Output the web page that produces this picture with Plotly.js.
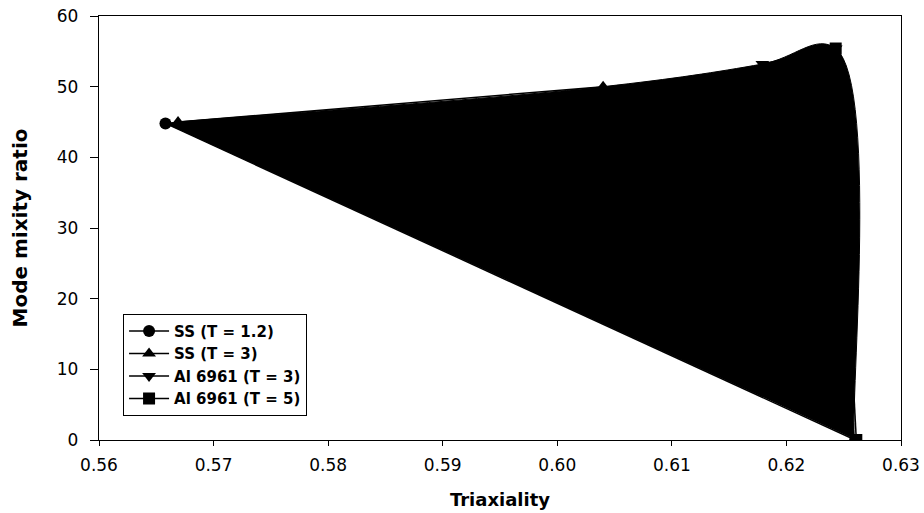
<!DOCTYPE html>
<html>
<head>
<meta charset="utf-8">
<script src="https://cdn.plot.ly/plotly-3.0.1.min.js"></script>
<style>html,body{margin:0;padding:0;background:#fff;}#chart{width:924px;height:513px;}</style>
</head>
<body>
<div id="chart"></div>
<script>
// Series data (Triaxiality vs Mode mixity ratio)
var seriesNames = ["SS (T = 1.2)", "SS (T = 3)", "Al 6961 (T = 3)", "Al 6961 (T = 5)"];
var seriesSymbols = ["circle", "triangle-up", "triangle-down", "square"];
var ssT12_x = [0.5658, 0.6260];
var ssT12_y = [44.8, 0.0];
var ssT3_x = [0.5669, 0.6040];
var ssT3_y = [45.0, 50.0];
var alT3_x = [0.6179, 0.6243];
var alT3_y = [53.2, 55.4];
var alT5_x = [0.6243, 0.6261];
var alT5_y = [55.4, 0.0];
var xTicks = [0.56, 0.57, 0.58, 0.59, 0.60, 0.61, 0.62, 0.63];
var yTicks = [0, 10, 20, 30, 40, 50, 60];

var seriesX = [ssT12_x, ssT3_x, alT3_x, alT5_x];
var seriesY = [ssT12_y, ssT3_y, alT3_y, alT5_y];

// Filled outline through all points, ordered by triaxiality
var pts = [];
var seen = {};
for (var s = 0; s < seriesX.length; s++) {
  for (var i = 0; i < seriesX[s].length; i++) {
    var key = seriesX[s][i].toFixed(4) + "_" + seriesY[s][i];
    if (!seen[key]) { seen[key] = true; pts.push([seriesX[s][i], seriesY[s][i]]); }
  }
}
pts.sort(function(a, b) { return a[0] - b[0]; });
var fillX = pts.map(function(p) { return p[0]; });
var fillY = pts.map(function(p) { return p[1]; });

var traces = [{
  x: fillX, y: fillY, type: "scatter", mode: "lines",
  line: {color: "#000", width: 1, shape: "spline", smoothing: 1.1},
  fill: "toself", fillcolor: "#000", showlegend: false, hoverinfo: "skip"
}];
for (var k = 0; k < seriesNames.length; k++) {
  traces.push({
    x: seriesX[k], y: seriesY[k], type: "scatter", mode: "lines+markers",
    name: seriesNames[k],
    line: {color: "#000", width: 1.5},
    marker: {color: "#000", size: 12, symbol: seriesSymbols[k]}
  });
}

var font = "'DejaVu Sans', Arial, sans-serif";
var layout = {
  width: 924, height: 513,
  margin: {l: 99, r: 23, t: 16, b: 73},
  paper_bgcolor: "#fff", plot_bgcolor: "#fff",
  font: {family: font, color: "#000", size: 16},
  showlegend: true,
  legend: {
    x: 0.03, y: 0.057, xanchor: "left", yanchor: "bottom",
    bordercolor: "#000", borderwidth: 1, bgcolor: "#fff",
    font: {family: font, size: 15, color: "#000", weight: "bold"},
    itemwidth: 40,
    tracegroupgap: 0
  },
  xaxis: {
    range: [0.56, 0.63], tickvals: xTicks, tickformat: ".2f",
    ticks: "outside", ticklen: 5, tickwidth: 1, tickcolor: "#000",
    ticklabelstandoff: 4,
    showline: true, linecolor: "#000", linewidth: 1.2, mirror: true,
    showgrid: false, zeroline: false,
    tickfont: {family: font, size: 17, color: "#000"},
    title: {text: "Triaxiality", font: {family: font, size: 18, color: "#000", weight: "bold"}, standoff: 19}
  },
  yaxis: {
    range: [0, 60], tickvals: yTicks,
    ticks: "outside", ticklen: 8, tickwidth: 1, tickcolor: "#000",
    ticklabelstandoff: 8,
    showline: true, linecolor: "#000", linewidth: 1.2, mirror: true,
    showgrid: false, zeroline: false,
    tickfont: {family: font, size: 17, color: "#000"},
    title: {text: "Mode mixity ratio", font: {family: font, size: 20, color: "#000", weight: "bold"}, standoff: 23}
  }
};

Plotly.newPlot("chart", traces, layout, {displayModeBar: false, staticPlot: true});
</script>
</body>
</html>
